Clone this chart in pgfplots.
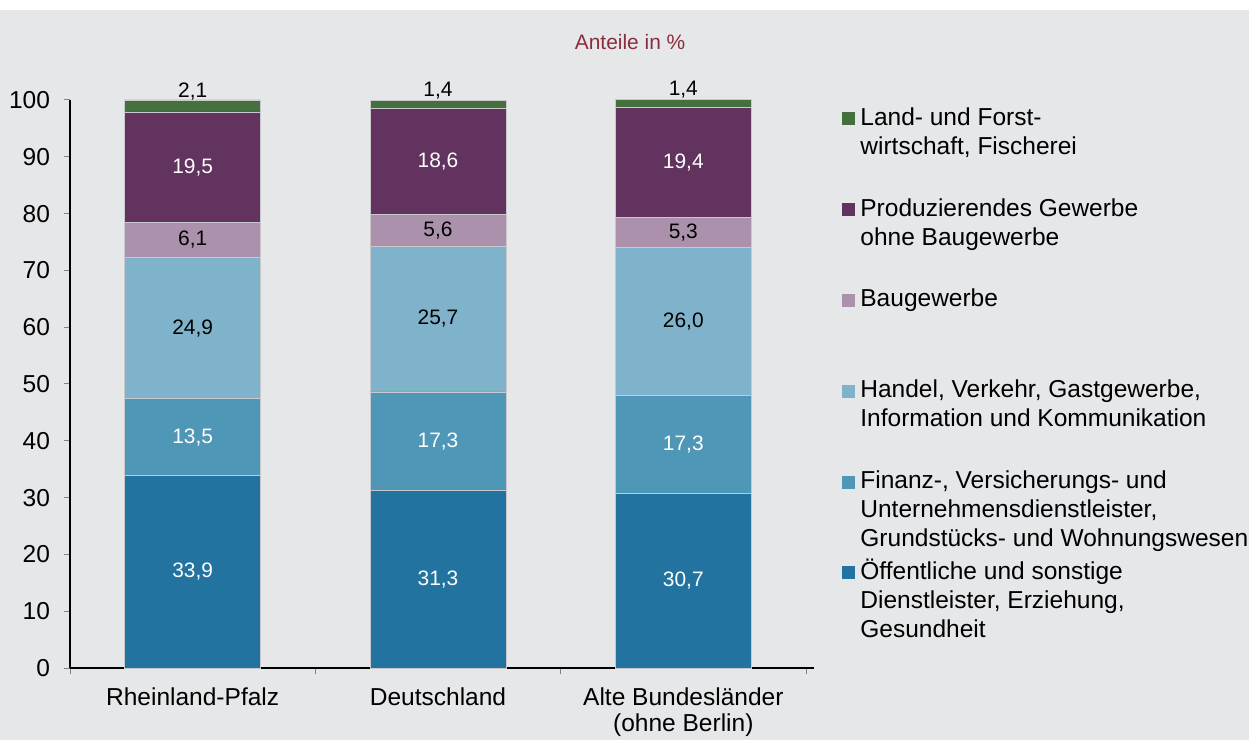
\documentclass[border=0pt]{standalone}
\usepackage{fontspec}
\setmainfont{Liberation Sans}
\usepackage{pgfplots}
\usepackage{pgfplotstable}
\pgfplotsset{compat=1.18}

\definecolor{bg}{HTML}{E6E7E9}
\definecolor{cland}{HTML}{43703C}
\definecolor{cprod}{HTML}{61335E}
\definecolor{cbau}{HTML}{AC91AD}
\definecolor{chandel}{HTML}{7FB3CB}
\definecolor{cfin}{HTML}{4E97B6}
\definecolor{coeff}{HTML}{22739F}
\definecolor{ctitle}{HTML}{8A2E3E}
\definecolor{csep}{HTML}{C8C8CD}

\pgfplotsset{
  centered labels/.style={
    nodes near coords,
    every node near coord/.append style={anchor=center, text=#1}
  },
  mybar/.style={
    fill=#1, draw=csep, line width=0.4bp,
    legend image code/.code={\fill[##1,draw=none] (0bp,0bp) rectangle (6.5bp,6.5bp);}
  }
}

\pgfplotstableread{
x oeff fin handel bau prod land
0 33.9 13.5 24.9 6.1 19.5 2.1
1 31.3 17.3 25.7 5.6 18.6 1.4
2 30.7 17.3 26.0 5.3 19.4 1.4
}\datatable

\begin{document}
\begin{tikzpicture}
\fill[bg] (0,0) rectangle (624.5bp,365bp);
\begin{axis}[
  at={(35bp,36bp)}, anchor=south west,
  scale only axis, width=368bp, height=284bp,
  ybar stacked, bar width=68bp,
  xmin=-0.5, xmax=2.5, ymin=0, ymax=100,
  axis x line*=bottom, axis y line*=left,
  axis line style={black, line width=0.6bp},
  x axis line style={shorten >=-4bp},
  xtick={0,1,2},
  xticklabels={Rheinland-Pfalz, Deutschland, {Alte Bundesländer\\(ohne Berlin)}},
  minor xtick={-0.5,0.5,1.5,2.5},
  major x tick style={draw=none},
  ytick={0,10,...,100},
  tick align=outside,
  major tick length=3bp, minor tick length=3bp,
  tick style={gray, line width=0.5bp},
  /pgf/number format/assume math mode=true,
  /pgf/number format/.cd, use comma, fixed, fixed zerofill, precision=1, /pgfplots/.cd,
  yticklabel={\pgfmathprintnumber[fixed, precision=0, fixed zerofill=false]{\tick}},
  tick label style={font=\fontsize{12.3}{13}\selectfont, text=black},
  x tick label style={align=center, yshift=-3.5bp},
  y tick label style={xshift=-3.5bp},
  every node near coord/.append style={font=\fontsize{10.5}{12}\selectfont},
  point meta=explicit,
  reverse legend,
  legend cell align=left,
  legend style={at={(1.0489,0.9877)}, anchor=north west, draw=none, fill=none,
    inner sep=0pt, column sep=2.5bp, row sep=0pt,
    cells={anchor=base west},
    nodes={inner sep=0pt, text height=9bp, text depth=36.4bp, font=\fontsize{12.3}{14.5}\selectfont}},
  clip=false,
]
\addplot[mybar=coeff, centered labels=white] table[x=x, y=oeff, meta=oeff]{\datatable};
\addlegendentry{\parbox[t]{200bp}{Öffentliche und sonstige\\Dienstleister, Erziehung,\\Gesundheit}}
\addplot[mybar=cfin, centered labels=white] table[x=x, y=fin, meta=fin]{\datatable};
\addlegendentry{\parbox[t]{200bp}{Finanz-, Versicherungs- und\\Unternehmensdienstleister,\\Grundstücks- und Wohnungswesen}}
\addplot[mybar=chandel, centered labels=black] table[x=x, y=handel, meta=handel]{\datatable};
\addlegendentry{\parbox[t]{200bp}{Handel, Verkehr, Gastgewerbe,\\Information und Kommunikation}}
\addplot[mybar=cbau, centered labels=black] table[x=x, y=bau, meta=bau]{\datatable};
\addlegendentry{\parbox[t]{200bp}{Baugewerbe}}
\addplot[mybar=cprod, centered labels=white] table[x=x, y=prod, meta=prod]{\datatable};
\addlegendentry{\parbox[t]{200bp}{Produzierendes Gewerbe\\ohne Baugewerbe}}
\addplot[mybar=cland, nodes near coords, every node near coord/.append style={text=black, anchor=south, inner sep=2.5bp}] table[x=x, y=land, meta=land]{\datatable};
\addlegendentry{\parbox[t]{200bp}{Land- und Forst-\\wirtschaft, Fischerei}}
\node[text=ctitle, font=\fontsize{10.5}{12}\selectfont] at (rel axis cs:0.761,1.102) {Anteile in \%};
\end{axis}
\pgfresetboundingbox
\path (0,0) rectangle (624.5bp,370bp);
\end{tikzpicture}
\end{document}
